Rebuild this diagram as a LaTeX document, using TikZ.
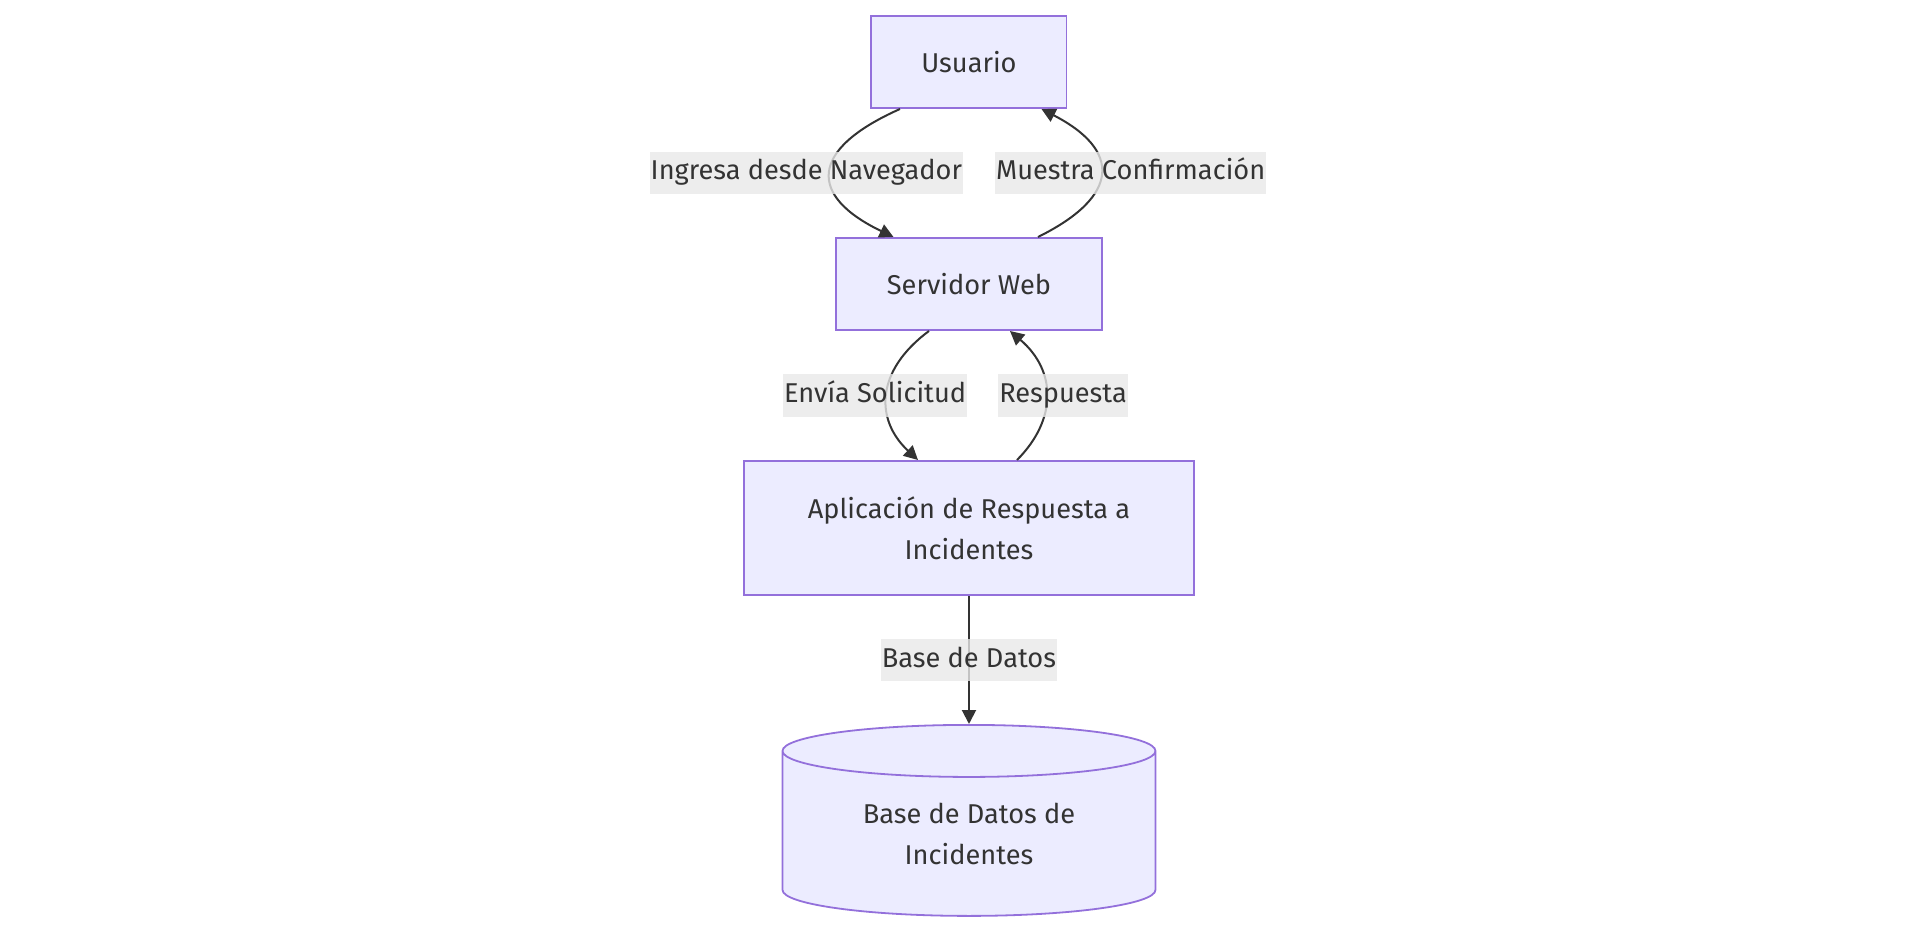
\documentclass[tikz,border=0pt]{standalone}
\usepackage{fontspec}
\setmainfont{Fira Sans}
\usetikzlibrary{positioning, shapes.geometric, arrows.meta}
\definecolor{nodefill}{HTML}{ECECFF}
\definecolor{nodeline}{HTML}{9370DB}
\definecolor{txtdark} {HTML}{333333}
\definecolor{lblgray} {HTML}{E8E8E8}

\begin{document}
\begin{tikzpicture}[
    every node/.style={font=\fontsize{13.6}{20.5}\selectfont, text=txtdark},
    box/.style={
        draw=nodeline, fill=nodefill, line width=0.9pt,
        minimum height=46.1pt, align=center, inner sep=0pt
    },
    dbbox/.style={
        cylinder, shape border rotate=90, aspect=0.245,
        draw=nodeline, fill=nodefill, line width=0.9pt,
        minimum width=186.5pt, minimum height=95.5pt,
        align=center, inner sep=0pt
    },
    arrow/.style={-{Triangle[length=7pt, width=7pt]}, line width=1pt, draw=txtdark},
    lbl/.style={
        fill=lblgray, fill opacity=0.8, text opacity=1,
        inner xsep=0.5pt, inner ysep=0pt, minimum height=21pt,
        text height=10pt, text depth=3pt
    }
]

% ── CANVAS ─────────────────────────────────────────────────────
\useasboundingbox (-484.5pt, 31pt) rectangle (475pt, -434.5pt);

% ── NODES ──────────────────────────────────────────────────────
\node[box, minimum width=97.6pt] (usr) at (0,0) {Usuario};

\node[box, minimum width=133.1pt, below=64pt of usr] (srv)
    {Servidor Web};

\node[box, minimum width=225.1pt, minimum height=67.1pt,
      below=64.5pt of srv] (app)
    {Aplicación de Respuesta a \\ Incidentes};

\node[dbbox, below=64pt of app] (bd)
    {Base de Datos de \\ Incidentes};

% ── USUARIO <-> SERVIDOR ───────────────────────────────────────
\draw[arrow] ([xshift=-34.5pt]usr.south)
    .. controls +(-46pt, -20.5pt) and +(-42.5pt, 20.5pt) ..
    node[lbl, xshift=-12pt] {Ingresa desde Navegador}
    ([xshift=-37.75pt]srv.north);

\draw[arrow] ([xshift=34.5pt]srv.north)
    .. controls +(41.5pt, 20.5pt) and +(39.75pt, -20.5pt) ..
    node[lbl, xshift=15pt] {Muestra Confirmación}
    ([xshift=36.25pt]usr.south);

% ── SERVIDOR <-> APLICACION ────────────────────────────────────
\draw[arrow] ([xshift=-20pt]srv.south)
    .. controls +(-27pt, -20pt) and +(-21.5pt, 20pt) ..
    node[lbl, xshift=-6pt] {Envía Solicitud}
    ([xshift=-25.5pt]app.north);

\draw[arrow] ([xshift=24pt]app.north)
    .. controls +(20pt, 20pt) and +(23.5pt, -20pt) ..
    node[lbl, xshift=8.5pt] {Respuesta}
    ([xshift=20.5pt]srv.south);

% ── APLICACION -> BASE DE DATOS ────────────────────────────────
\draw[arrow] (app.south) --
    node[lbl] {Base de Datos}
    (bd.north);

\end{tikzpicture}
\end{document}
